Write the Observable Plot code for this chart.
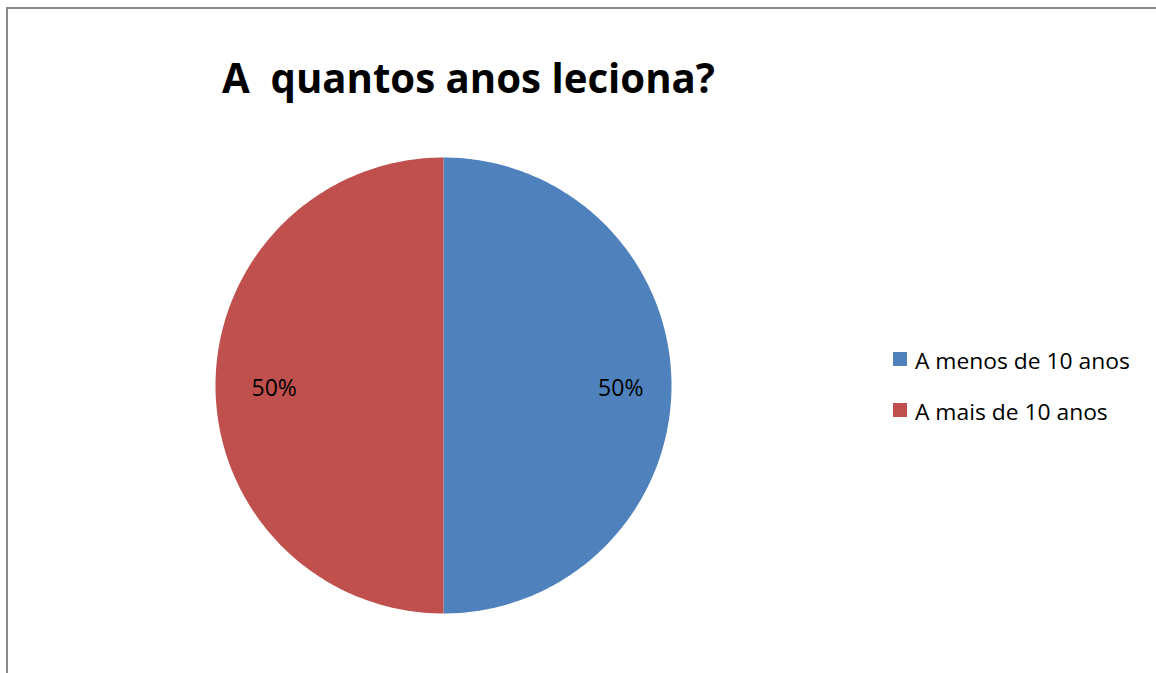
<!DOCTYPE html>
<html>
<head>
<meta charset="utf-8">
<script src="https://cdn.jsdelivr.net/npm/d3@7"></script>
<script src="https://cdn.jsdelivr.net/npm/@observablehq/plot@0.6"></script>
<style>
  html, body { margin: 0; padding: 0; background: #fff; width: 1156px; height: 673px; overflow: hidden; }
  #frame { position: absolute; left: 6px; top: 7px; width: 1200px; height: 720px; border: 2px solid #8a8a8a; box-sizing: border-box; }
  #pie { position: absolute; left: 213px; top: 155px; }
  #overlay { position: absolute; left: 0; top: 0; }
  text { font-family: "Open Sans", sans-serif; white-space: pre; }
</style>
</head>
<body>
<div id="frame"></div>
<div id="pie"></div>
<svg id="overlay" width="1156" height="673"></svg>
<script>
const title = "A  quantos anos leciona?";
const categories = ["A menos de 10 anos", "A mais de 10 anos"];
const values = [50, 50];
const colors = ["#4F81BD", "#C0504D"];

const total = d3.sum(values);
const arcs = d3.pie().sort(null).value(d => d)(values);

const pts = [];
arcs.forEach((a, i) => {
  pts.push({cat: categories[i], x: 0, y: 0});
  const n = 180;
  for (let k = 0; k <= n; k++) {
    const t = a.startAngle + (a.endAngle - a.startAngle) * k / n;
    pts.push({cat: categories[i], x: Math.sin(t), y: Math.cos(t)});
  }
});

const labelR = 0.76;
const lbls = arcs.map((a, i) => {
  const m = (a.startAngle + a.endAngle) / 2;
  return {cat: categories[i], x: labelR * Math.sin(m), y: labelR * Math.cos(m),
          text: Math.round(values[i] / total * 100) + "%"};
});

const chart = Plot.plot({
  width: 460, height: 460,
  margin: 2,
  x: {domain: [-1, 1], axis: null},
  y: {domain: [-1, 1], axis: null},
  color: {domain: categories, range: colors},
  style: {fontFamily: "'Open Sans', sans-serif", background: "transparent"},
  marks: [
    Plot.line(pts, {x: "x", y: "y", z: "cat", fill: "cat", stroke: "none", curve: "linear-closed"}),
    Plot.text(lbls, {x: "x", y: "y", text: "text", fontSize: 23, fill: "#000", dx: 4, dy: 3})
  ]
});
document.getElementById("pie").appendChild(chart);

// Title and legend
const svg = d3.select("#overlay");
const t = svg.append("text")
  .attr("x", 222).attr("y", 93)
  .attr("xml:space", "preserve")
  .attr("font-size", 42).attr("font-weight", "bold").attr("fill", "#000")
  .text(title);
const tw = t.node().getComputedTextLength();
t.attr("transform", `translate(222,0) scale(${493 / tw},1) translate(-222,0)`);

const leg = svg.append("g");
const rows = leg.selectAll("g").data(categories).join("g")
  .attr("transform", (d, i) => `translate(893,${352 + i * 51})`);
rows.append("rect").attr("width", 14).attr("height", 14)
  .attr("fill", (d, i) => colors[i]);
const lt = rows.append("text").attr("x", 22).attr("y", 17)
  .attr("font-size", 22).attr("fill", "#000").text(d => d);
const w0 = lt.nodes()[0].getComputedTextLength();
const sx = 215 / w0;
lt.attr("transform", `translate(22,0) scale(${sx},1) translate(-22,0)`);
</script>
</body>
</html>
